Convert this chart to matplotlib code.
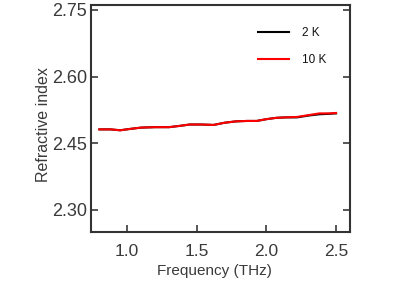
import matplotlib
matplotlib.use('Agg')
from matplotlib import pyplot as plt

plt.rcParams['font.family'] = ['Liberation Sans', 'DejaVu Sans']

freq = [0.80, 0.88, 0.95, 1.02, 1.10, 1.20, 1.30, 1.38, 1.45, 1.53, 1.62, 1.70, 1.78, 1.86, 1.93, 2.00, 2.07, 2.14, 2.22, 2.30, 2.38, 2.45, 2.50]
n_2k = [2.481, 2.481, 2.479, 2.482, 2.485, 2.486, 2.486, 2.489, 2.492, 2.492, 2.491, 2.496, 2.499, 2.500, 2.500, 2.504, 2.507, 2.508, 2.508, 2.512, 2.515, 2.516, 2.517]
n_10k = [2.481, 2.481, 2.479, 2.482, 2.485, 2.486, 2.486, 2.489, 2.492, 2.492, 2.491, 2.496, 2.499, 2.500, 2.500, 2.504, 2.507, 2.508, 2.509, 2.513, 2.517, 2.517, 2.518]

xticks = [1.0, 1.5, 2.0, 2.5]
yticks = [2.30, 2.45, 2.60, 2.75]

fig = plt.figure(figsize=(4.15, 2.81), dpi=100)
ax = fig.add_axes([91/415, 49/281, 259/415, 227/281])

ax.plot(freq, n_2k, color='black', lw=1.5, label='2 K')
ax.plot(freq, n_10k, color='red', lw=1.5, label='10 K')

ax.set_xlim(0.74, 2.6)
ax.set_ylim(2.25, 2.761)
ax.set_xticks(xticks)
ax.set_xticklabels(['%.1f' % v for v in xticks])
ax.set_yticks(yticks)
ax.set_yticklabels(['%.2f' % v for v in yticks])

txt = '#3a3a3a'
ax.tick_params(direction='in', length=5, width=1.2, colors=txt, labelsize=13, right=True, pad=3)
ax.tick_params(axis='x', labelsize=12.5, pad=9)
for s in ax.spines.values():
    s.set_linewidth(1.5)
    s.set_color('#333333')

ax.set_xlabel('Frequency (THz)', fontsize=11, color=txt)
ax.xaxis.set_label_coords(0.477, -0.14)
ax.set_ylabel('Refractive index', fontsize=11.5, color=txt)
ax.yaxis.set_label_coords(-0.155, 0.475)

leg = ax.legend(loc='upper right', frameon=False, fontsize=8.5, handlelength=2.6,
                handletextpad=1.1, labelspacing=1.3, bbox_to_anchor=(0.95, 0.95))
for t in leg.get_texts():
    t.set_color('#111111')

fig.savefig('out.png', dpi=100)
